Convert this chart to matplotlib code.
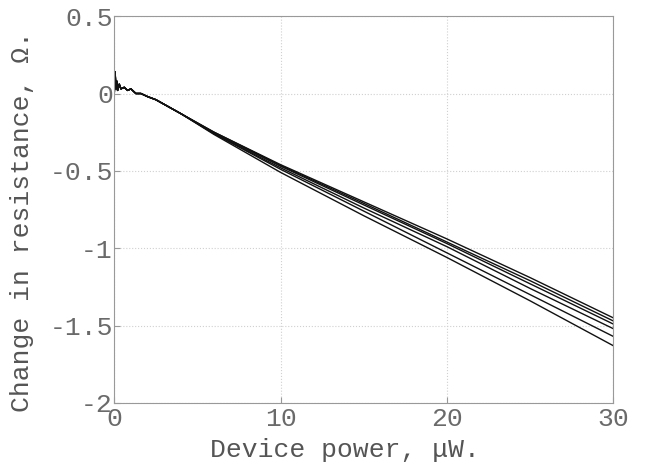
import numpy as np
import matplotlib.pyplot as plt

# noisy common start of all sweeps (x in uW, y in ohm)
startX = [0, 0.05, 0.1, 0.15, 0.2, 0.3, 0.4, 0.6, 0.8, 1.0, 1.3, 1.6, 2.0, 2.5, 3.0, 4.0]
startY = [0.0, 0.14, 0.03, 0.08, 0.02, 0.06, 0.03, 0.04, 0.02, 0.03, 0.0, 0.0, -0.02, -0.04, -0.07, -0.13]

# later part of each sweep
tailX = [6, 10, 15, 20, 25, 30]
sweeps = [
    [-0.25, -0.46, -0.70, -0.94, -1.19, -1.45],
    [-0.25, -0.465, -0.71, -0.96, -1.21, -1.47],
    [-0.255, -0.47, -0.72, -0.97, -1.23, -1.49],
    [-0.26, -0.48, -0.74, -0.99, -1.26, -1.52],
    [-0.26, -0.49, -0.76, -1.03, -1.30, -1.57],
    [-0.265, -0.51, -0.79, -1.06, -1.34, -1.63],
]

xticks = [0, 10, 20, 30]
yticks = [-2, -1.5, -1, -0.5, 0, 0.5]
ytickLabels = ['-2', '-1.5', '-1', '-0.5', '0', '0.5']

grey = '#6a6a6a'
mono = 'Liberation Mono'

fig = plt.figure(figsize=(6.53, 4.62), dpi=100)
ax = fig.add_axes([0.175, 0.128, 0.764, 0.837])

for tail in sweeps:
    ax.plot(startX + tailX, startY + tail, color='#111111', lw=1.0)

ax.set_xlim(0, 30)
ax.set_ylim(-2, 0.5)
ax.set_xticks(xticks)
ax.set_yticks(yticks)
ax.set_yticklabels(ytickLabels)
ax.grid(True, linestyle=':', color='#d0d0d0', lw=0.8)
ax.tick_params(direction='in', colors='#999999', labelcolor=grey, labelsize=19, length=4)
ax.tick_params(axis='y', pad=1)
ax.tick_params(axis='x', pad=3)
for lab in ax.get_xticklabels() + ax.get_yticklabels():
    lab.set_family(mono)
for s in ax.spines.values():
    s.set_color('#999999')

ax.set_xlabel('Device power, \u03bcW.', family=mono, fontsize=19, color='#555555')
ax.set_ylabel('Change in resistance, \u03a9.', family=mono, fontsize=19, color='#555555')
ax.xaxis.set_label_coords(0.463, -0.09)
ax.yaxis.set_label_coords(-0.16, 0.468)

fig.savefig('out.png', dpi=100)
